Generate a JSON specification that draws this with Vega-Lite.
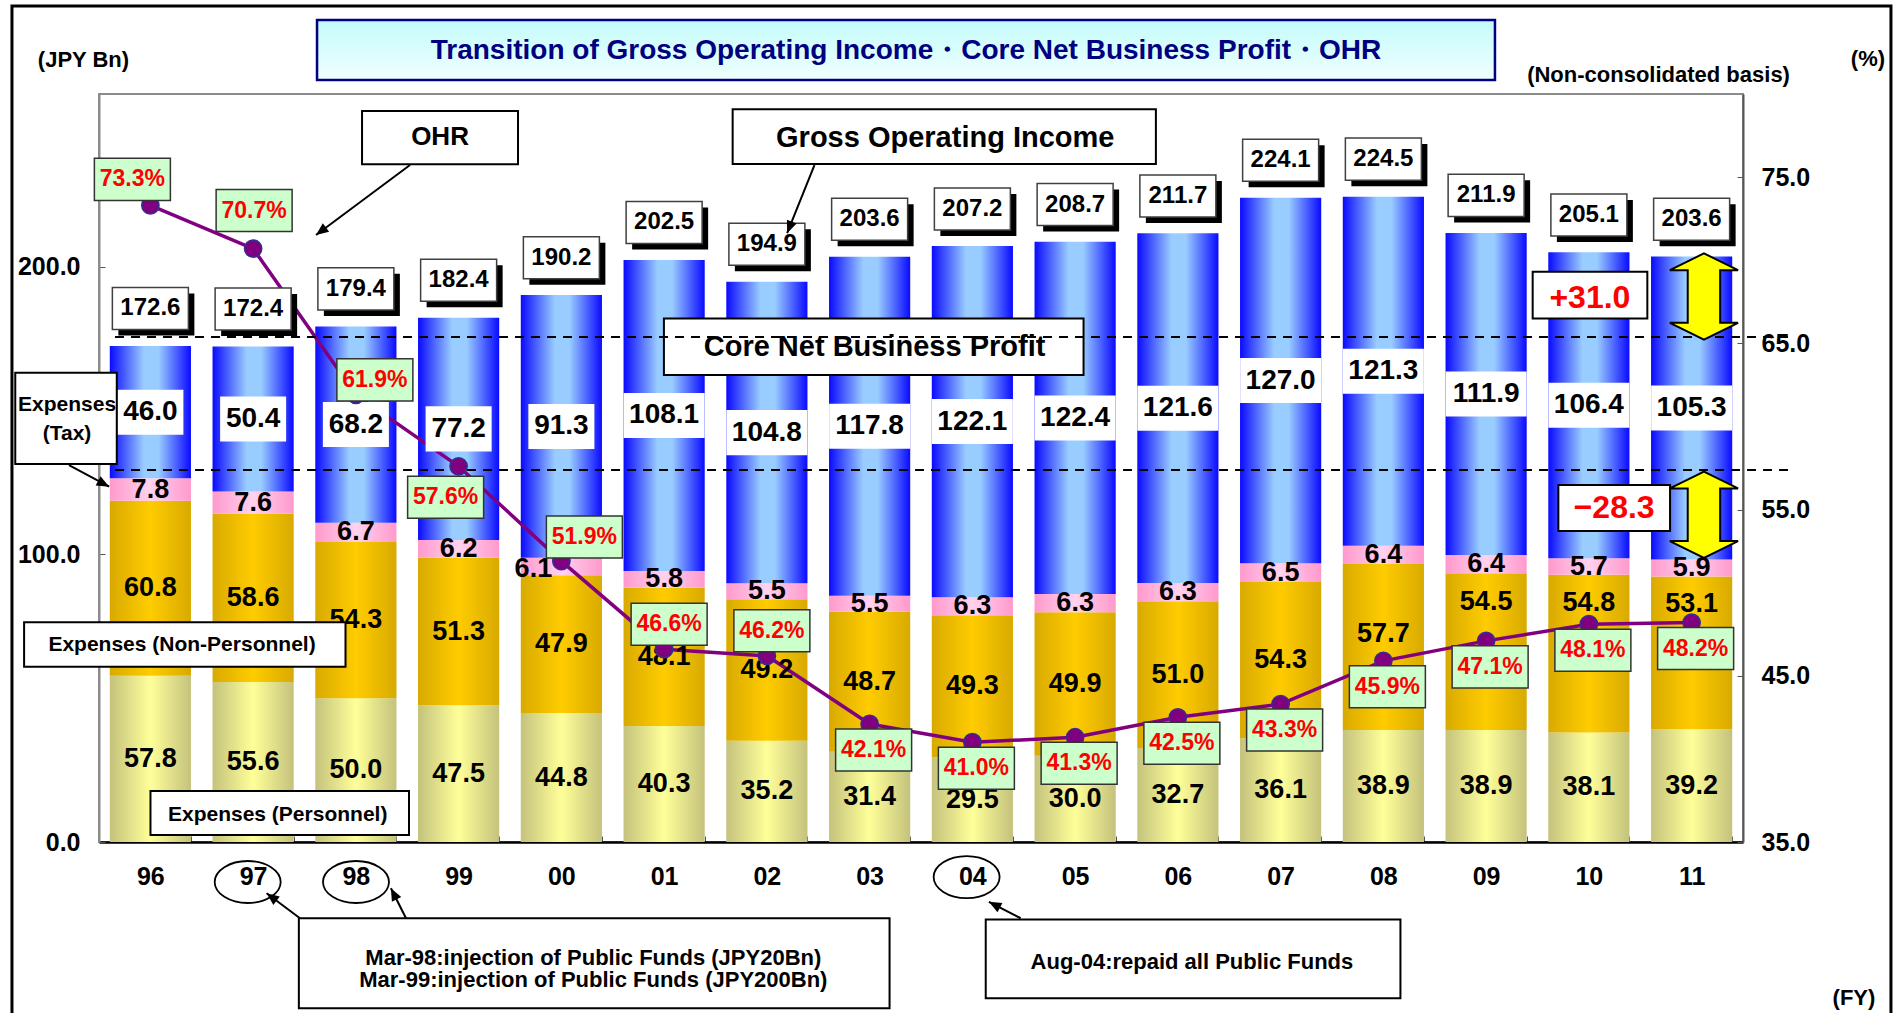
{
"$schema": "https://vega.github.io/schema/vega-lite/v6.json",
"width": 1644,
"height": 748,
"autosize": {"type": "none"},
"padding": {"left": 99, "top": 94, "right": 153, "bottom": 171},
"background": "white",
"config": {
  "view": {"stroke": "#8c8c8c", "strokeWidth": 2},
  "axis": {"labelFont": "Liberation Sans", "labelFontWeight": "bold", "labelFontSize": 25, "labelColor": "black", "grid": false}
},
"datasets": {
  "fy": [
    {"fy":"96","personnel":57.8,"nonPersonnel":60.8,"tax":7.8,"core":46.0,"gross":172.6,"ohr":0.733},
    {"fy":"97","personnel":55.6,"nonPersonnel":58.6,"tax":7.6,"core":50.4,"gross":172.4,"ohr":0.707},
    {"fy":"98","personnel":50.0,"nonPersonnel":54.3,"tax":6.7,"core":68.2,"gross":179.4,"ohr":0.619},
    {"fy":"99","personnel":47.5,"nonPersonnel":51.3,"tax":6.2,"core":77.2,"gross":182.4,"ohr":0.576},
    {"fy":"00","personnel":44.8,"nonPersonnel":47.9,"tax":6.1,"core":91.3,"gross":190.2,"ohr":0.519},
    {"fy":"01","personnel":40.3,"nonPersonnel":48.1,"tax":5.8,"core":108.1,"gross":202.5,"ohr":0.466},
    {"fy":"02","personnel":35.2,"nonPersonnel":49.2,"tax":5.5,"core":104.8,"gross":194.9,"ohr":0.462},
    {"fy":"03","personnel":31.4,"nonPersonnel":48.7,"tax":5.5,"core":117.8,"gross":203.6,"ohr":0.421},
    {"fy":"04","personnel":29.5,"nonPersonnel":49.3,"tax":6.3,"core":122.1,"gross":207.2,"ohr":0.410},
    {"fy":"05","personnel":30.0,"nonPersonnel":49.9,"tax":6.3,"core":122.4,"gross":208.7,"ohr":0.413},
    {"fy":"06","personnel":32.7,"nonPersonnel":51.0,"tax":6.3,"core":121.6,"gross":211.7,"ohr":0.425},
    {"fy":"07","personnel":36.1,"nonPersonnel":54.3,"tax":6.5,"core":127.0,"gross":224.1,"ohr":0.433},
    {"fy":"08","personnel":38.9,"nonPersonnel":57.7,"tax":6.4,"core":121.3,"gross":224.5,"ohr":0.459},
    {"fy":"09","personnel":38.9,"nonPersonnel":54.5,"tax":6.4,"core":111.9,"gross":211.9,"ohr":0.471},
    {"fy":"10","personnel":38.1,"nonPersonnel":54.8,"tax":5.7,"core":106.4,"gross":205.1,"ohr":0.481},
    {"fy":"11","personnel":39.2,"nonPersonnel":53.1,"tax":5.9,"core":105.3,"gross":203.6,"ohr":0.482}
  ],
  "seriesOrder": [
    {"series":"personnel","rank":1},{"series":"nonPersonnel","rank":2},{"series":"tax","rank":3},{"series":"core","rank":4}
  ],
  "frame": [{"a1": -0.847, "a2": 17.44, "v1": 290.6, "v2": -60.5}],
  "titleBox": [{"a1": 2.122, "a2": 13.586, "v1": 285.7, "v2": 264.9}],
  "titleText": [{"a": 7.854, "v": 275.1, "text": "Transition of Gross Operating Income・Core Net Business Profit・OHR"}],
  "boxes": [
    {"label": "OHR", "a1": 2.56, "a2": 4.078, "v1": 254.1, "v2": 235.6},
    {"label": "Gross Operating Income", "a1": 6.167, "a2": 10.286, "v1": 254.7, "v2": 235.7},
    {"label": "Core Net Business Profit", "a1": 5.498, "a2": 9.582, "v1": 182.0, "v2": 162.3},
    {"label": "Expenses (Tax)", "a1": -0.815, "a2": 0.173, "v1": 163.1, "v2": 131.4},
    {"label": "Expenses (Non-Personnel)", "a1": -0.729, "a2": 2.399, "v1": 76.4, "v2": 60.9},
    {"label": "Expenses (Personnel)", "a1": 0.501, "a2": 3.017, "v1": 17.7, "v2": 2.4},
    {"label": "+31.0", "a1": 13.953, "a2": 15.069, "v1": 198.2, "v2": 182.0},
    {"label": "-28.3", "a1": 14.203, "a2": 15.29, "v1": 124.1, "v2": 108.1},
    {"label": "Mar", "a1": 1.945, "a2": 7.694, "v1": -26.5, "v2": -57.8},
    {"label": "Aug", "a1": 8.63, "a2": 12.666, "v1": -26.9, "v2": -54.3}
  ],
  "bigTexts": [
    {"a": 8.236, "v": 244.6, "text": "Gross Operating Income"},
    {"a": 7.548, "v": 172.0, "text": "Core Net Business Profit"}
  ],
  "ohrText": [{"a": 3.319, "v": 244.9, "text": "OHR"}],
  "medTexts": [
    {"a": -0.151, "v": 271.8, "text": "(JPY Bn)"},
    {"a": 15.178, "v": 266.6, "text": "(Non-consolidated basis)"},
    {"a": 17.216, "v": 272.0, "text": "(%)"},
    {"a": 17.08, "v": -54.2, "text": "(FY)"},
    {"a": 4.811, "v": -40.4, "text": "Mar-98:injection of Public Funds (JPY20Bn)"},
    {"a": 4.811, "v": -48.0, "text": "Mar-99:injection of Public Funds (JPY200Bn)"},
    {"a": 10.637, "v": -41.6, "text": "Aug-04:repaid all Public Funds"}
  ],
  "expTexts": [
    {"a": -0.311, "v": 151.9, "text": "Expenses"},
    {"a": -0.311, "v": 141.7, "text": "(Tax)"},
    {"a": 0.808, "v": 68.5, "text": "Expenses (Non-Personnel)"},
    {"a": 1.739, "v": 9.4, "text": "Expenses (Personnel)"}
  ],
  "redTexts": [
    {"a": 14.51, "v": 189.0, "text": "+31.0"},
    {"a": 14.746, "v": 116.1, "text": "−28.3"}
  ],
  "dashed": [
    {"a1": 0.156, "a2": 16.44, "v": 175.5},
    {"a1": 0.156, "a2": 16.44, "v": 129.3}
  ],
  "arrows": [
    {"id": "ohr", "a1": 3.027, "v1": 235.3, "a2": 2.112, "v2": 211.0},
    {"id": "goi", "a1": 6.963, "v1": 235.3, "a2": 6.697, "v2": 211.6},
    {"id": "tax", "a1": -0.292, "v1": 131.0, "a2": 0.099, "v2": 123.5},
    {"id": "97", "a1": 1.956, "v1": -26.5, "a2": 1.631, "v2": -17.8},
    {"id": "98", "a1": 2.988, "v1": -26.5, "a2": 2.841, "v2": -16.1},
    {"id": "04", "a1": 8.97, "v1": -26.5, "a2": 8.661, "v2": -20.8}
  ],
  "ellipses": [
    {"a": 1.447, "v": -13.9},
    {"a": 2.501, "v": -13.9},
    {"a": 8.444, "v": -12.2}
  ],
  "yellowArrows": [
    {"a": 15.62, "v": 189.6},
    {"a": 15.62, "v": 113.75}
  ]
},
"resolve": {"scale": {"x": "independent", "y": "independent"}},
"layer": [
  {"data": {"name": "frame"},
   "mark": {"type": "rect", "fillOpacity": 0, "stroke": "black", "strokeWidth": 3},
   "encoding": {
     "x": {"field": "a1", "type": "quantitative", "scale": {"domain": [0, 16], "nice": false, "zero": false}, "axis": null},
     "x2": {"field": "a2"},
     "y": {"field": "v1", "type": "quantitative", "scale": {"domain": [0, 260], "nice": false, "zero": false}, "axis": null},
     "y2": {"field": "v2"}}},
  {"data": {"name": "titleBox"},
   "mark": {"type": "rect", "fill": {"gradient": "linear", "x1": 0, "y1": 0, "x2": 0, "y2": 1, "stops": [{"offset": 0, "color": "#c4fbfb"}, {"offset": 1, "color": "#effffe"}]}, "stroke": "#000080", "strokeWidth": 2.5},
   "encoding": {
     "x": {"field": "a1", "type": "quantitative", "scale": {"domain": [0, 16], "nice": false, "zero": false}, "axis": null},
     "x2": {"field": "a2"},
     "y": {"field": "v1", "type": "quantitative", "scale": {"domain": [0, 260], "nice": false, "zero": false}, "axis": null},
     "y2": {"field": "v2"}}},
  {"data": {"name": "titleText"},
   "mark": {"type": "text", "font": "Liberation Sans", "fontWeight": "bold", "fontSize": 28, "color": "#000080", "baseline": "middle", "align": "center"},
   "encoding": {
     "x": {"field": "a", "type": "quantitative", "scale": {"domain": [0, 16], "nice": false, "zero": false}, "axis": null},
     "y": {"field": "v", "type": "quantitative", "scale": {"domain": [0, 260], "nice": false, "zero": false}, "axis": null},
     "text": {"field": "text"}}},
  {"data": {"name": "fy"},
   "transform": [
     {"fold": ["personnel","nonPersonnel","tax","core"], "as": ["series","value"]},
     {"lookup": "series", "from": {"data": {"name": "seriesOrder"}, "key": "series", "fields": ["rank"]}},
     {"stack": "value", "groupby": ["fy"], "sort": [{"field": "rank", "order": "ascending"}], "as": ["v0","v1"]},
     {"filter": "datum.series === 'personnel'"}],
   "mark": {"type": "bar", "fill": {"gradient": "linear", "x1": 0, "y1": 0, "x2": 1, "y2": 0, "stops": [{"offset": 0, "color": "#c4c27c"}, {"offset": 0.5, "color": "#ffff99"}, {"offset": 1, "color": "#c4c27c"}]}},
   "encoding": {
     "x": {"field": "fy", "type": "nominal", "scale": {"domain": ["96","97","98","99","00","01","02","03","04","05","06","07","08","09","10","11"], "paddingInner": 0.21, "paddingOuter": 0.105},
           "axis": {"orient": "bottom", "title": null, "labelAngle": 0, "domainColor": "black", "domainWidth": 2.5, "tickColor": "#555555", "tickSize": -6, "tickBand": "extent", "labelPadding": 40, "labelBaseline": "middle"}},
     "y": {"field": "v0", "type": "quantitative", "scale": {"domain": [0, 260], "nice": false, "zero": false},
           "axis": {"orient": "left", "title": null, "values": [0, 100, 200], "format": ".1f", "domainColor": "#8c8c8c", "domainWidth": 2, "tickColor": "#555555", "tickSize": -6, "labelPadding": 25}},
     "y2": {"field": "v1"}}},
  {"data": {"name": "fy"},
   "transform": [
     {"fold": ["personnel","nonPersonnel","tax","core"], "as": ["series","value"]},
     {"lookup": "series", "from": {"data": {"name": "seriesOrder"}, "key": "series", "fields": ["rank"]}},
     {"stack": "value", "groupby": ["fy"], "sort": [{"field": "rank", "order": "ascending"}], "as": ["v0","v1"]},
     {"filter": "datum.series === 'nonPersonnel'"}],
   "mark": {"type": "bar", "fill": {"gradient": "linear", "x1": 0, "y1": 0, "x2": 1, "y2": 0, "stops": [{"offset": 0, "color": "#d8aa00"}, {"offset": 0.5, "color": "#ffcc00"}, {"offset": 1, "color": "#d8aa00"}]}},
   "encoding": {
     "x": {"field": "fy", "type": "nominal", "scale": {"domain": ["96","97","98","99","00","01","02","03","04","05","06","07","08","09","10","11"], "paddingInner": 0.21, "paddingOuter": 0.105}, "axis": null},
     "y": {"field": "v0", "type": "quantitative", "scale": {"domain": [0, 260], "nice": false, "zero": false}, "axis": null},
     "y2": {"field": "v1"}}},
  {"data": {"name": "fy"},
   "transform": [
     {"fold": ["personnel","nonPersonnel","tax","core"], "as": ["series","value"]},
     {"lookup": "series", "from": {"data": {"name": "seriesOrder"}, "key": "series", "fields": ["rank"]}},
     {"stack": "value", "groupby": ["fy"], "sort": [{"field": "rank", "order": "ascending"}], "as": ["v0","v1"]},
     {"filter": "datum.series === 'tax'"}],
   "mark": {"type": "bar", "fill": {"gradient": "linear", "x1": 0, "y1": 0, "x2": 1, "y2": 0, "stops": [{"offset": 0, "color": "#ff99cc"}, {"offset": 0.5, "color": "#ffd2ee"}, {"offset": 1, "color": "#ff99cc"}]}},
   "encoding": {
     "x": {"field": "fy", "type": "nominal", "scale": {"domain": ["96","97","98","99","00","01","02","03","04","05","06","07","08","09","10","11"], "paddingInner": 0.21, "paddingOuter": 0.105}, "axis": null},
     "y": {"field": "v0", "type": "quantitative", "scale": {"domain": [0, 260], "nice": false, "zero": false}, "axis": null},
     "y2": {"field": "v1"}}},
  {"data": {"name": "fy"},
   "transform": [
     {"fold": ["personnel","nonPersonnel","tax","core"], "as": ["series","value"]},
     {"lookup": "series", "from": {"data": {"name": "seriesOrder"}, "key": "series", "fields": ["rank"]}},
     {"stack": "value", "groupby": ["fy"], "sort": [{"field": "rank", "order": "ascending"}], "as": ["v0","v1"]},
     {"filter": "datum.series === 'core'"}],
   "mark": {"type": "bar", "fill": {"gradient": "linear", "x1": 0, "y1": 0, "x2": 1, "y2": 0, "stops": [{"offset": 0, "color": "#0a0aff"}, {"offset": 0.42, "color": "#99ccff"}, {"offset": 0.6, "color": "#99ccff"}, {"offset": 1, "color": "#0a0aff"}]}},
   "encoding": {
     "x": {"field": "fy", "type": "nominal", "scale": {"domain": ["96","97","98","99","00","01","02","03","04","05","06","07","08","09","10","11"], "paddingInner": 0.21, "paddingOuter": 0.105}, "axis": null},
     "y": {"field": "v0", "type": "quantitative", "scale": {"domain": [0, 260], "nice": false, "zero": false}, "axis": null},
     "y2": {"field": "v1"}}},
  {"data": {"name": "fy"},
   "mark": {"type": "line", "color": "#800080", "strokeWidth": 3.5},
   "encoding": {
     "x": {"field": "fy", "type": "nominal", "scale": {"domain": ["96","97","98","99","00","01","02","03","04","05","06","07","08","09","10","11"]}, "axis": null},
     "y": {"field": "ohr", "type": "quantitative", "scale": {"domain": [0.35, 0.8], "nice": false, "zero": false},
           "axis": {"orient": "right", "title": null, "values": [0.35, 0.45, 0.55, 0.65, 0.75], "labelExpr": "format(datum.value * 100, '.1f')", "domainColor": "#555555", "domainWidth": 2, "tickColor": "#555555", "tickSize": -6, "labelPadding": 24}}}},
  {"data": {"name": "fy"},
   "transform": [
     {"fold": ["personnel","nonPersonnel","tax","core"], "as": ["series","value"]},
     {"lookup": "series", "from": {"data": {"name": "seriesOrder"}, "key": "series", "fields": ["rank"]}}],
   "mark": {"type": "point", "filled": true, "fill": "white", "strokeWidth": 0, "size": 6561},
   "encoding": {
     "x": {"field": "fy", "type": "nominal", "scale": {"domain": ["96","97","98","99","00","01","02","03","04","05","06","07","08","09","10","11"]}, "axis": null},
     "y": {"field": "value", "type": "quantitative", "stack": "zero", "bandPosition": 0.5, "scale": {"domain": [0, 260], "nice": false, "zero": false}, "axis": null},
     "detail": {"field": "series"},
     "order": {"field": "rank", "type": "quantitative"},
     "shape": {"condition": {"test": "datum.value < 100", "value": "M-0.815,-0.556L0.815,-0.556L0.815,0.556L-0.815,0.556Z"}, "value": "M-1,-0.556L1,-0.556L1,0.556L-1,0.556Z"},
     "opacity": {"condition": {"test": "datum.series === 'core'", "value": 1}, "value": 0}}},
  {"data": {"name": "fy"},
   "transform": [
     {"fold": ["personnel","nonPersonnel","tax","core"], "as": ["series","value"]},
     {"lookup": "series", "from": {"data": {"name": "seriesOrder"}, "key": "series", "fields": ["rank"]}}],
   "mark": {"type": "text", "font": "Liberation Sans", "fontWeight": "bold", "color": "black", "baseline": "middle", "align": "center"},
   "encoding": {
     "x": {"field": "fy", "type": "nominal", "scale": {"domain": ["96","97","98","99","00","01","02","03","04","05","06","07","08","09","10","11"]}, "axis": null},
     "y": {"field": "value", "type": "quantitative", "stack": "zero", "bandPosition": 0.5, "scale": {"domain": [0, 260], "nice": false, "zero": false}, "axis": null},
     "detail": {"field": "series"},
     "order": {"field": "rank", "type": "quantitative"},
     "size": {"condition": {"test": "datum.series === 'core'", "value": 28}, "value": 27},
     "text": {"condition": {"test": "(datum.series !== 'nonPersonnel' || indexof(['08','09','10','11'], datum.fy) < 0) && !(datum.series === 'tax' && datum.fy === '00')", "field": "value", "type": "quantitative", "format": ".1f"}, "value": ""}}},
  {"data": {"name": "fy"},
   "transform": [
     {"fold": ["personnel","nonPersonnel","tax","core"], "as": ["series","value"]},
     {"lookup": "series", "from": {"data": {"name": "seriesOrder"}, "key": "series", "fields": ["rank"]}}],
   "mark": {"type": "text", "font": "Liberation Sans", "fontWeight": "bold", "fontSize": 27, "color": "black", "baseline": "middle", "align": "center", "dx": -28, "dy": 2},
   "encoding": {
     "x": {"field": "fy", "type": "nominal", "scale": {"domain": ["96","97","98","99","00","01","02","03","04","05","06","07","08","09","10","11"]}, "axis": null},
     "y": {"field": "value", "type": "quantitative", "stack": "zero", "bandPosition": 0.5, "scale": {"domain": [0, 260], "nice": false, "zero": false}, "axis": null},
     "detail": {"field": "series"},
     "order": {"field": "rank", "type": "quantitative"},
     "text": {"condition": {"test": "datum.series === 'tax' && datum.fy === '00'", "field": "value", "type": "quantitative", "format": ".1f"}, "value": ""}}},
  {"data": {"name": "fy"},
   "transform": [
     {"fold": ["personnel","nonPersonnel","tax","core"], "as": ["series","value"]},
     {"lookup": "series", "from": {"data": {"name": "seriesOrder"}, "key": "series", "fields": ["rank"]}}],
   "mark": {"type": "text", "font": "Liberation Sans", "fontWeight": "bold", "fontSize": 27, "color": "black", "baseline": "middle", "align": "center"},
   "encoding": {
     "x": {"field": "fy", "type": "nominal", "scale": {"domain": ["96","97","98","99","00","01","02","03","04","05","06","07","08","09","10","11"]}, "axis": null},
     "y": {"field": "value", "type": "quantitative", "stack": "zero", "bandPosition": 0.58, "scale": {"domain": [0, 260], "nice": false, "zero": false}, "axis": null},
     "detail": {"field": "series"},
     "order": {"field": "rank", "type": "quantitative"},
     "text": {"condition": {"test": "datum.series === 'nonPersonnel' && datum.fy === '08'", "field": "value", "type": "quantitative", "format": ".1f"}, "value": ""}}},
  {"data": {"name": "fy"},
   "transform": [
     {"fold": ["personnel","nonPersonnel","tax","core"], "as": ["series","value"]},
     {"lookup": "series", "from": {"data": {"name": "seriesOrder"}, "key": "series", "fields": ["rank"]}}],
   "mark": {"type": "text", "font": "Liberation Sans", "fontWeight": "bold", "fontSize": 27, "color": "black", "baseline": "middle", "align": "center"},
   "encoding": {
     "x": {"field": "fy", "type": "nominal", "scale": {"domain": ["96","97","98","99","00","01","02","03","04","05","06","07","08","09","10","11"]}, "axis": null},
     "y": {"field": "value", "type": "quantitative", "stack": "zero", "bandPosition": 0.82, "scale": {"domain": [0, 260], "nice": false, "zero": false}, "axis": null},
     "detail": {"field": "series"},
     "order": {"field": "rank", "type": "quantitative"},
     "text": {"condition": {"test": "datum.series === 'nonPersonnel' && indexof(['09','10','11'], datum.fy) >= 0", "field": "value", "type": "quantitative", "format": ".1f"}, "value": ""}}},
  {"data": {"name": "fy"},
   "mark": {"type": "point", "filled": true, "fill": "black", "strokeWidth": 0, "opacity": 1, "size": 5776, "shape": "M-1,-0.553L1,-0.553L1,0.553L-1,0.553Z", "xOffset": 6, "yOffset": -31},
   "encoding": {
     "x": {"field": "fy", "type": "nominal", "scale": {"domain": ["96","97","98","99","00","01","02","03","04","05","06","07","08","09","10","11"]}, "axis": null},
     "y": {"field": "gross", "type": "quantitative", "scale": {"domain": [0, 260], "nice": false, "zero": false}, "axis": null}}},
  {"data": {"name": "fy"},
   "mark": {"type": "point", "filled": true, "fill": "white", "stroke": "#404040", "strokeWidth": 1.5, "opacity": 1, "size": 5776, "shape": "M-1,-0.553L1,-0.553L1,0.553L-1,0.553Z", "yOffset": -37},
   "encoding": {
     "x": {"field": "fy", "type": "nominal", "scale": {"domain": ["96","97","98","99","00","01","02","03","04","05","06","07","08","09","10","11"]}, "axis": null},
     "y": {"field": "gross", "type": "quantitative", "scale": {"domain": [0, 260], "nice": false, "zero": false}, "axis": null}}},
  {"data": {"name": "fy"},
   "mark": {"type": "text", "font": "Liberation Sans", "fontWeight": "bold", "fontSize": 24, "color": "black", "baseline": "middle", "align": "center", "dy": -37},
   "encoding": {
     "x": {"field": "fy", "type": "nominal", "scale": {"domain": ["96","97","98","99","00","01","02","03","04","05","06","07","08","09","10","11"]}, "axis": null},
     "y": {"field": "gross", "type": "quantitative", "scale": {"domain": [0, 260], "nice": false, "zero": false}, "axis": null},
     "text": {"field": "gross", "type": "quantitative", "format": ".1f"}}},
  {"data": {"name": "boxes"},
   "mark": {"type": "rect", "fill": "white", "stroke": "black", "strokeWidth": 2},
   "encoding": {
     "x": {"field": "a1", "type": "quantitative", "scale": {"domain": [0, 16], "nice": false, "zero": false}, "axis": null},
     "x2": {"field": "a2"},
     "y": {"field": "v1", "type": "quantitative", "scale": {"domain": [0, 260], "nice": false, "zero": false}, "axis": null},
     "y2": {"field": "v2"}}},
  {"data": {"name": "dashed"},
   "mark": {"type": "rule", "color": "black", "strokeWidth": 2, "strokeDash": [9, 7]},
   "encoding": {
     "x": {"field": "a1", "type": "quantitative", "scale": {"domain": [0, 16], "nice": false, "zero": false}, "axis": null},
     "x2": {"field": "a2"},
     "y": {"field": "v", "type": "quantitative", "scale": {"domain": [0, 260], "nice": false, "zero": false}, "axis": null}}},
  {"data": {"name": "fy"},
   "mark": {"type": "point", "filled": true, "fill": "#800080", "stroke": "#2e3192", "strokeWidth": 1.5, "opacity": 1, "size": 300, "shape": "circle"},
   "encoding": {
     "x": {"field": "fy", "type": "nominal", "scale": {"domain": ["96","97","98","99","00","01","02","03","04","05","06","07","08","09","10","11"]}, "axis": null},
     "y": {"field": "ohr", "type": "quantitative", "scale": {"domain": [0.35, 0.8], "nice": false, "zero": false}, "axis": null}}},
  {"data": {"name": "fy"},
   "transform": [{"filter": {"field": "fy", "oneOf": ["96"]}}],
   "mark": {"type": "point", "filled": true, "fill": "#ccffcc", "stroke": "#333333", "strokeWidth": 1.5, "opacity": 1, "size": 5776, "shape": "M-1,-0.553L1,-0.553L1,0.553L-1,0.553Z", "xOffset": -18, "yOffset": -26},
   "encoding": {
     "x": {"field": "fy", "type": "nominal", "scale": {"domain": ["96","97","98","99","00","01","02","03","04","05","06","07","08","09","10","11"]}, "axis": null},
     "y": {"field": "ohr", "type": "quantitative", "scale": {"domain": [0.35, 0.8], "nice": false, "zero": false}, "axis": null}}},
  {"data": {"name": "fy"},
   "transform": [{"filter": {"field": "fy", "oneOf": ["96"]}}],
   "mark": {"type": "text", "font": "Liberation Sans", "fontWeight": "bold", "fontSize": 23, "color": "#ff0000", "baseline": "middle", "align": "center", "dx": -18, "dy": -26},
   "encoding": {
     "x": {"field": "fy", "type": "nominal", "scale": {"domain": ["96","97","98","99","00","01","02","03","04","05","06","07","08","09","10","11"]}, "axis": null},
     "y": {"field": "ohr", "type": "quantitative", "scale": {"domain": [0.35, 0.8], "nice": false, "zero": false}, "axis": null},
     "text": {"field": "ohr", "type": "quantitative", "format": ".1%"}}},
  {"data": {"name": "fy"},
   "transform": [{"filter": {"field": "fy", "oneOf": ["97"]}}],
   "mark": {"type": "point", "filled": true, "fill": "#ccffcc", "stroke": "#333333", "strokeWidth": 1.5, "opacity": 1, "size": 5776, "shape": "M-1,-0.553L1,-0.553L1,0.553L-1,0.553Z", "xOffset": 1, "yOffset": -38},
   "encoding": {
     "x": {"field": "fy", "type": "nominal", "scale": {"domain": ["96","97","98","99","00","01","02","03","04","05","06","07","08","09","10","11"]}, "axis": null},
     "y": {"field": "ohr", "type": "quantitative", "scale": {"domain": [0.35, 0.8], "nice": false, "zero": false}, "axis": null}}},
  {"data": {"name": "fy"},
   "transform": [{"filter": {"field": "fy", "oneOf": ["97"]}}],
   "mark": {"type": "text", "font": "Liberation Sans", "fontWeight": "bold", "fontSize": 23, "color": "#ff0000", "baseline": "middle", "align": "center", "dx": 1, "dy": -38},
   "encoding": {
     "x": {"field": "fy", "type": "nominal", "scale": {"domain": ["96","97","98","99","00","01","02","03","04","05","06","07","08","09","10","11"]}, "axis": null},
     "y": {"field": "ohr", "type": "quantitative", "scale": {"domain": [0.35, 0.8], "nice": false, "zero": false}, "axis": null},
     "text": {"field": "ohr", "type": "quantitative", "format": ".1%"}}},
  {"data": {"name": "fy"},
   "transform": [{"filter": {"field": "fy", "oneOf": ["98"]}}],
   "mark": {"type": "point", "filled": true, "fill": "#ccffcc", "stroke": "#333333", "strokeWidth": 1.5, "opacity": 1, "size": 5776, "shape": "M-1,-0.553L1,-0.553L1,0.553L-1,0.553Z", "xOffset": 19, "yOffset": -15},
   "encoding": {
     "x": {"field": "fy", "type": "nominal", "scale": {"domain": ["96","97","98","99","00","01","02","03","04","05","06","07","08","09","10","11"]}, "axis": null},
     "y": {"field": "ohr", "type": "quantitative", "scale": {"domain": [0.35, 0.8], "nice": false, "zero": false}, "axis": null}}},
  {"data": {"name": "fy"},
   "transform": [{"filter": {"field": "fy", "oneOf": ["98"]}}],
   "mark": {"type": "text", "font": "Liberation Sans", "fontWeight": "bold", "fontSize": 23, "color": "#ff0000", "baseline": "middle", "align": "center", "dx": 19, "dy": -15},
   "encoding": {
     "x": {"field": "fy", "type": "nominal", "scale": {"domain": ["96","97","98","99","00","01","02","03","04","05","06","07","08","09","10","11"]}, "axis": null},
     "y": {"field": "ohr", "type": "quantitative", "scale": {"domain": [0.35, 0.8], "nice": false, "zero": false}, "axis": null},
     "text": {"field": "ohr", "type": "quantitative", "format": ".1%"}}},
  {"data": {"name": "fy"},
   "transform": [{"filter": {"field": "fy", "oneOf": ["00"]}}],
   "mark": {"type": "point", "filled": true, "fill": "#ccffcc", "stroke": "#333333", "strokeWidth": 1.5, "opacity": 1, "size": 5776, "shape": "M-1,-0.553L1,-0.553L1,0.553L-1,0.553Z", "xOffset": 23, "yOffset": -24},
   "encoding": {
     "x": {"field": "fy", "type": "nominal", "scale": {"domain": ["96","97","98","99","00","01","02","03","04","05","06","07","08","09","10","11"]}, "axis": null},
     "y": {"field": "ohr", "type": "quantitative", "scale": {"domain": [0.35, 0.8], "nice": false, "zero": false}, "axis": null}}},
  {"data": {"name": "fy"},
   "transform": [{"filter": {"field": "fy", "oneOf": ["00"]}}],
   "mark": {"type": "text", "font": "Liberation Sans", "fontWeight": "bold", "fontSize": 23, "color": "#ff0000", "baseline": "middle", "align": "center", "dx": 23, "dy": -24},
   "encoding": {
     "x": {"field": "fy", "type": "nominal", "scale": {"domain": ["96","97","98","99","00","01","02","03","04","05","06","07","08","09","10","11"]}, "axis": null},
     "y": {"field": "ohr", "type": "quantitative", "scale": {"domain": [0.35, 0.8], "nice": false, "zero": false}, "axis": null},
     "text": {"field": "ohr", "type": "quantitative", "format": ".1%"}}},
  {"data": {"name": "fy"},
   "transform": [{"filter": {"field": "fy", "oneOf": ["01", "02"]}}],
   "mark": {"type": "point", "filled": true, "fill": "#ccffcc", "stroke": "#333333", "strokeWidth": 1.5, "opacity": 1, "size": 5776, "shape": "M-1,-0.553L1,-0.553L1,0.553L-1,0.553Z", "xOffset": 5, "yOffset": -25},
   "encoding": {
     "x": {"field": "fy", "type": "nominal", "scale": {"domain": ["96","97","98","99","00","01","02","03","04","05","06","07","08","09","10","11"]}, "axis": null},
     "y": {"field": "ohr", "type": "quantitative", "scale": {"domain": [0.35, 0.8], "nice": false, "zero": false}, "axis": null}}},
  {"data": {"name": "fy"},
   "transform": [{"filter": {"field": "fy", "oneOf": ["01", "02"]}}],
   "mark": {"type": "text", "font": "Liberation Sans", "fontWeight": "bold", "fontSize": 23, "color": "#ff0000", "baseline": "middle", "align": "center", "dx": 5, "dy": -25},
   "encoding": {
     "x": {"field": "fy", "type": "nominal", "scale": {"domain": ["96","97","98","99","00","01","02","03","04","05","06","07","08","09","10","11"]}, "axis": null},
     "y": {"field": "ohr", "type": "quantitative", "scale": {"domain": [0.35, 0.8], "nice": false, "zero": false}, "axis": null},
     "text": {"field": "ohr", "type": "quantitative", "format": ".1%"}}},
  {"data": {"name": "fy"},
   "transform": [{"filter": {"field": "fy", "oneOf": ["99"]}}],
   "mark": {"type": "point", "filled": true, "fill": "#ccffcc", "stroke": "#333333", "strokeWidth": 1.5, "opacity": 1, "size": 5776, "shape": "M-1,-0.553L1,-0.553L1,0.553L-1,0.553Z", "xOffset": -13, "yOffset": 31},
   "encoding": {
     "x": {"field": "fy", "type": "nominal", "scale": {"domain": ["96","97","98","99","00","01","02","03","04","05","06","07","08","09","10","11"]}, "axis": null},
     "y": {"field": "ohr", "type": "quantitative", "scale": {"domain": [0.35, 0.8], "nice": false, "zero": false}, "axis": null}}},
  {"data": {"name": "fy"},
   "transform": [{"filter": {"field": "fy", "oneOf": ["99"]}}],
   "mark": {"type": "text", "font": "Liberation Sans", "fontWeight": "bold", "fontSize": 23, "color": "#ff0000", "baseline": "middle", "align": "center", "dx": -13, "dy": 31},
   "encoding": {
     "x": {"field": "fy", "type": "nominal", "scale": {"domain": ["96","97","98","99","00","01","02","03","04","05","06","07","08","09","10","11"]}, "axis": null},
     "y": {"field": "ohr", "type": "quantitative", "scale": {"domain": [0.35, 0.8], "nice": false, "zero": false}, "axis": null},
     "text": {"field": "ohr", "type": "quantitative", "format": ".1%"}}},
  {"data": {"name": "fy"},
   "transform": [{"filter": {"field": "fy", "oneOf": ["03","04","05","06","07","08","09","10","11"]}}],
   "mark": {"type": "point", "filled": true, "fill": "#ccffcc", "stroke": "#333333", "strokeWidth": 1.5, "opacity": 1, "size": 5776, "shape": "M-1,-0.553L1,-0.553L1,0.553L-1,0.553Z", "xOffset": 4, "yOffset": 26},
   "encoding": {
     "x": {"field": "fy", "type": "nominal", "scale": {"domain": ["96","97","98","99","00","01","02","03","04","05","06","07","08","09","10","11"]}, "axis": null},
     "y": {"field": "ohr", "type": "quantitative", "scale": {"domain": [0.35, 0.8], "nice": false, "zero": false}, "axis": null}}},
  {"data": {"name": "fy"},
   "transform": [{"filter": {"field": "fy", "oneOf": ["03","04","05","06","07","08","09","10","11"]}}],
   "mark": {"type": "text", "font": "Liberation Sans", "fontWeight": "bold", "fontSize": 23, "color": "#ff0000", "baseline": "middle", "align": "center", "dx": 4, "dy": 26},
   "encoding": {
     "x": {"field": "fy", "type": "nominal", "scale": {"domain": ["96","97","98","99","00","01","02","03","04","05","06","07","08","09","10","11"]}, "axis": null},
     "y": {"field": "ohr", "type": "quantitative", "scale": {"domain": [0.35, 0.8], "nice": false, "zero": false}, "axis": null},
     "text": {"field": "ohr", "type": "quantitative", "format": ".1%"}}},
  {"data": {"name": "bigTexts"},
   "mark": {"type": "text", "font": "Liberation Sans", "fontWeight": "bold", "fontSize": 29, "color": "black", "baseline": "middle", "align": "center"},
   "encoding": {
     "x": {"field": "a", "type": "quantitative", "scale": {"domain": [0, 16], "nice": false, "zero": false}, "axis": null},
     "y": {"field": "v", "type": "quantitative", "scale": {"domain": [0, 260], "nice": false, "zero": false}, "axis": null},
     "text": {"field": "text"}}},
  {"data": {"name": "ohrText"},
   "mark": {"type": "text", "font": "Liberation Sans", "fontWeight": "bold", "fontSize": 26, "color": "black", "baseline": "middle", "align": "center"},
   "encoding": {
     "x": {"field": "a", "type": "quantitative", "scale": {"domain": [0, 16], "nice": false, "zero": false}, "axis": null},
     "y": {"field": "v", "type": "quantitative", "scale": {"domain": [0, 260], "nice": false, "zero": false}, "axis": null},
     "text": {"field": "text"}}},
  {"data": {"name": "medTexts"},
   "mark": {"type": "text", "font": "Liberation Sans", "fontWeight": "bold", "fontSize": 22, "color": "black", "baseline": "middle", "align": "center"},
   "encoding": {
     "x": {"field": "a", "type": "quantitative", "scale": {"domain": [0, 16], "nice": false, "zero": false}, "axis": null},
     "y": {"field": "v", "type": "quantitative", "scale": {"domain": [0, 260], "nice": false, "zero": false}, "axis": null},
     "text": {"field": "text"}}},
  {"data": {"name": "expTexts"},
   "mark": {"type": "text", "font": "Liberation Sans", "fontWeight": "bold", "fontSize": 21, "color": "black", "baseline": "middle", "align": "center"},
   "encoding": {
     "x": {"field": "a", "type": "quantitative", "scale": {"domain": [0, 16], "nice": false, "zero": false}, "axis": null},
     "y": {"field": "v", "type": "quantitative", "scale": {"domain": [0, 260], "nice": false, "zero": false}, "axis": null},
     "text": {"field": "text"}}},
  {"data": {"name": "redTexts"},
   "mark": {"type": "text", "font": "Liberation Sans", "fontWeight": "bold", "fontSize": 32, "color": "#ff0000", "baseline": "middle", "align": "center"},
   "encoding": {
     "x": {"field": "a", "type": "quantitative", "scale": {"domain": [0, 16], "nice": false, "zero": false}, "axis": null},
     "y": {"field": "v", "type": "quantitative", "scale": {"domain": [0, 260], "nice": false, "zero": false}, "axis": null},
     "text": {"field": "text"}}},
  {"data": {"name": "arrows"},
   "mark": {"type": "rule", "color": "black", "strokeWidth": 2},
   "encoding": {
     "x": {"field": "a1", "type": "quantitative", "scale": {"domain": [0, 16], "nice": false, "zero": false}, "axis": null},
     "x2": {"field": "a2"},
     "y": {"field": "v1", "type": "quantitative", "scale": {"domain": [0, 260], "nice": false, "zero": false}, "axis": null},
     "y2": {"field": "v2"}}},
  {"data": {"name": "arrows"},
   "transform": [{"filter": "datum.id === 'ohr'"}],
   "mark": {"type": "point", "filled": true, "fill": "black", "strokeWidth": 0, "opacity": 1, "size": 625, "shape": "M0,0L0.42,1L-0.42,1Z", "angle": 233},
   "encoding": {
     "x": {"field": "a2", "type": "quantitative", "scale": {"domain": [0, 16], "nice": false, "zero": false}, "axis": null},
     "y": {"field": "v2", "type": "quantitative", "scale": {"domain": [0, 260], "nice": false, "zero": false}, "axis": null}}},
  {"data": {"name": "arrows"},
   "transform": [{"filter": "datum.id === 'goi'"}],
   "mark": {"type": "point", "filled": true, "fill": "black", "strokeWidth": 0, "opacity": 1, "size": 625, "shape": "M0,0L0.42,1L-0.42,1Z", "angle": 202},
   "encoding": {
     "x": {"field": "a2", "type": "quantitative", "scale": {"domain": [0, 16], "nice": false, "zero": false}, "axis": null},
     "y": {"field": "v2", "type": "quantitative", "scale": {"domain": [0, 260], "nice": false, "zero": false}, "axis": null}}},
  {"data": {"name": "arrows"},
   "transform": [{"filter": "datum.id === 'tax'"}],
   "mark": {"type": "point", "filled": true, "fill": "black", "strokeWidth": 0, "opacity": 1, "size": 625, "shape": "M0,0L0.42,1L-0.42,1Z", "angle": 118},
   "encoding": {
     "x": {"field": "a2", "type": "quantitative", "scale": {"domain": [0, 16], "nice": false, "zero": false}, "axis": null},
     "y": {"field": "v2", "type": "quantitative", "scale": {"domain": [0, 260], "nice": false, "zero": false}, "axis": null}}},
  {"data": {"name": "arrows"},
   "transform": [{"filter": "datum.id === '97'"}],
   "mark": {"type": "point", "filled": true, "fill": "black", "strokeWidth": 0, "opacity": 1, "size": 625, "shape": "M0,0L0.42,1L-0.42,1Z", "angle": 307},
   "encoding": {
     "x": {"field": "a2", "type": "quantitative", "scale": {"domain": [0, 16], "nice": false, "zero": false}, "axis": null},
     "y": {"field": "v2", "type": "quantitative", "scale": {"domain": [0, 260], "nice": false, "zero": false}, "axis": null}}},
  {"data": {"name": "arrows"},
   "transform": [{"filter": "datum.id === '98'"}],
   "mark": {"type": "point", "filled": true, "fill": "black", "strokeWidth": 0, "opacity": 1, "size": 625, "shape": "M0,0L0.42,1L-0.42,1Z", "angle": 333},
   "encoding": {
     "x": {"field": "a2", "type": "quantitative", "scale": {"domain": [0, 16], "nice": false, "zero": false}, "axis": null},
     "y": {"field": "v2", "type": "quantitative", "scale": {"domain": [0, 260], "nice": false, "zero": false}, "axis": null}}},
  {"data": {"name": "arrows"},
   "transform": [{"filter": "datum.id === '04'"}],
   "mark": {"type": "point", "filled": true, "fill": "black", "strokeWidth": 0, "opacity": 1, "size": 625, "shape": "M0,0L0.42,1L-0.42,1Z", "angle": 298},
   "encoding": {
     "x": {"field": "a2", "type": "quantitative", "scale": {"domain": [0, 16], "nice": false, "zero": false}, "axis": null},
     "y": {"field": "v2", "type": "quantitative", "scale": {"domain": [0, 260], "nice": false, "zero": false}, "axis": null}}},
  {"data": {"name": "ellipses"},
   "mark": {"type": "point", "filled": false, "color": "black", "strokeWidth": 1.8, "opacity": 1, "size": 4356, "shape": "M-1,0A1,0.636,0,1,1,1,0A1,0.636,0,1,1,-1,0Z"},
   "encoding": {
     "x": {"field": "a", "type": "quantitative", "scale": {"domain": [0, 16], "nice": false, "zero": false}, "axis": null},
     "y": {"field": "v", "type": "quantitative", "scale": {"domain": [0, 260], "nice": false, "zero": false}, "axis": null}}},
  {"data": {"name": "yellowArrows"},
   "mark": {"type": "point", "filled": true, "fill": "#ffff00", "stroke": "black", "strokeWidth": 2, "opacity": 1, "size": 7450, "shape": "M0,-1L0.79,-0.61L0.376,-0.61L0.376,0.61L0.79,0.61L0,1L-0.79,0.61L-0.376,0.61L-0.376,-0.61L-0.79,-0.61Z"},
   "encoding": {
     "x": {"field": "a", "type": "quantitative", "scale": {"domain": [0, 16], "nice": false, "zero": false}, "axis": null},
     "y": {"field": "v", "type": "quantitative", "scale": {"domain": [0, 260], "nice": false, "zero": false}, "axis": null}}}
]
}
